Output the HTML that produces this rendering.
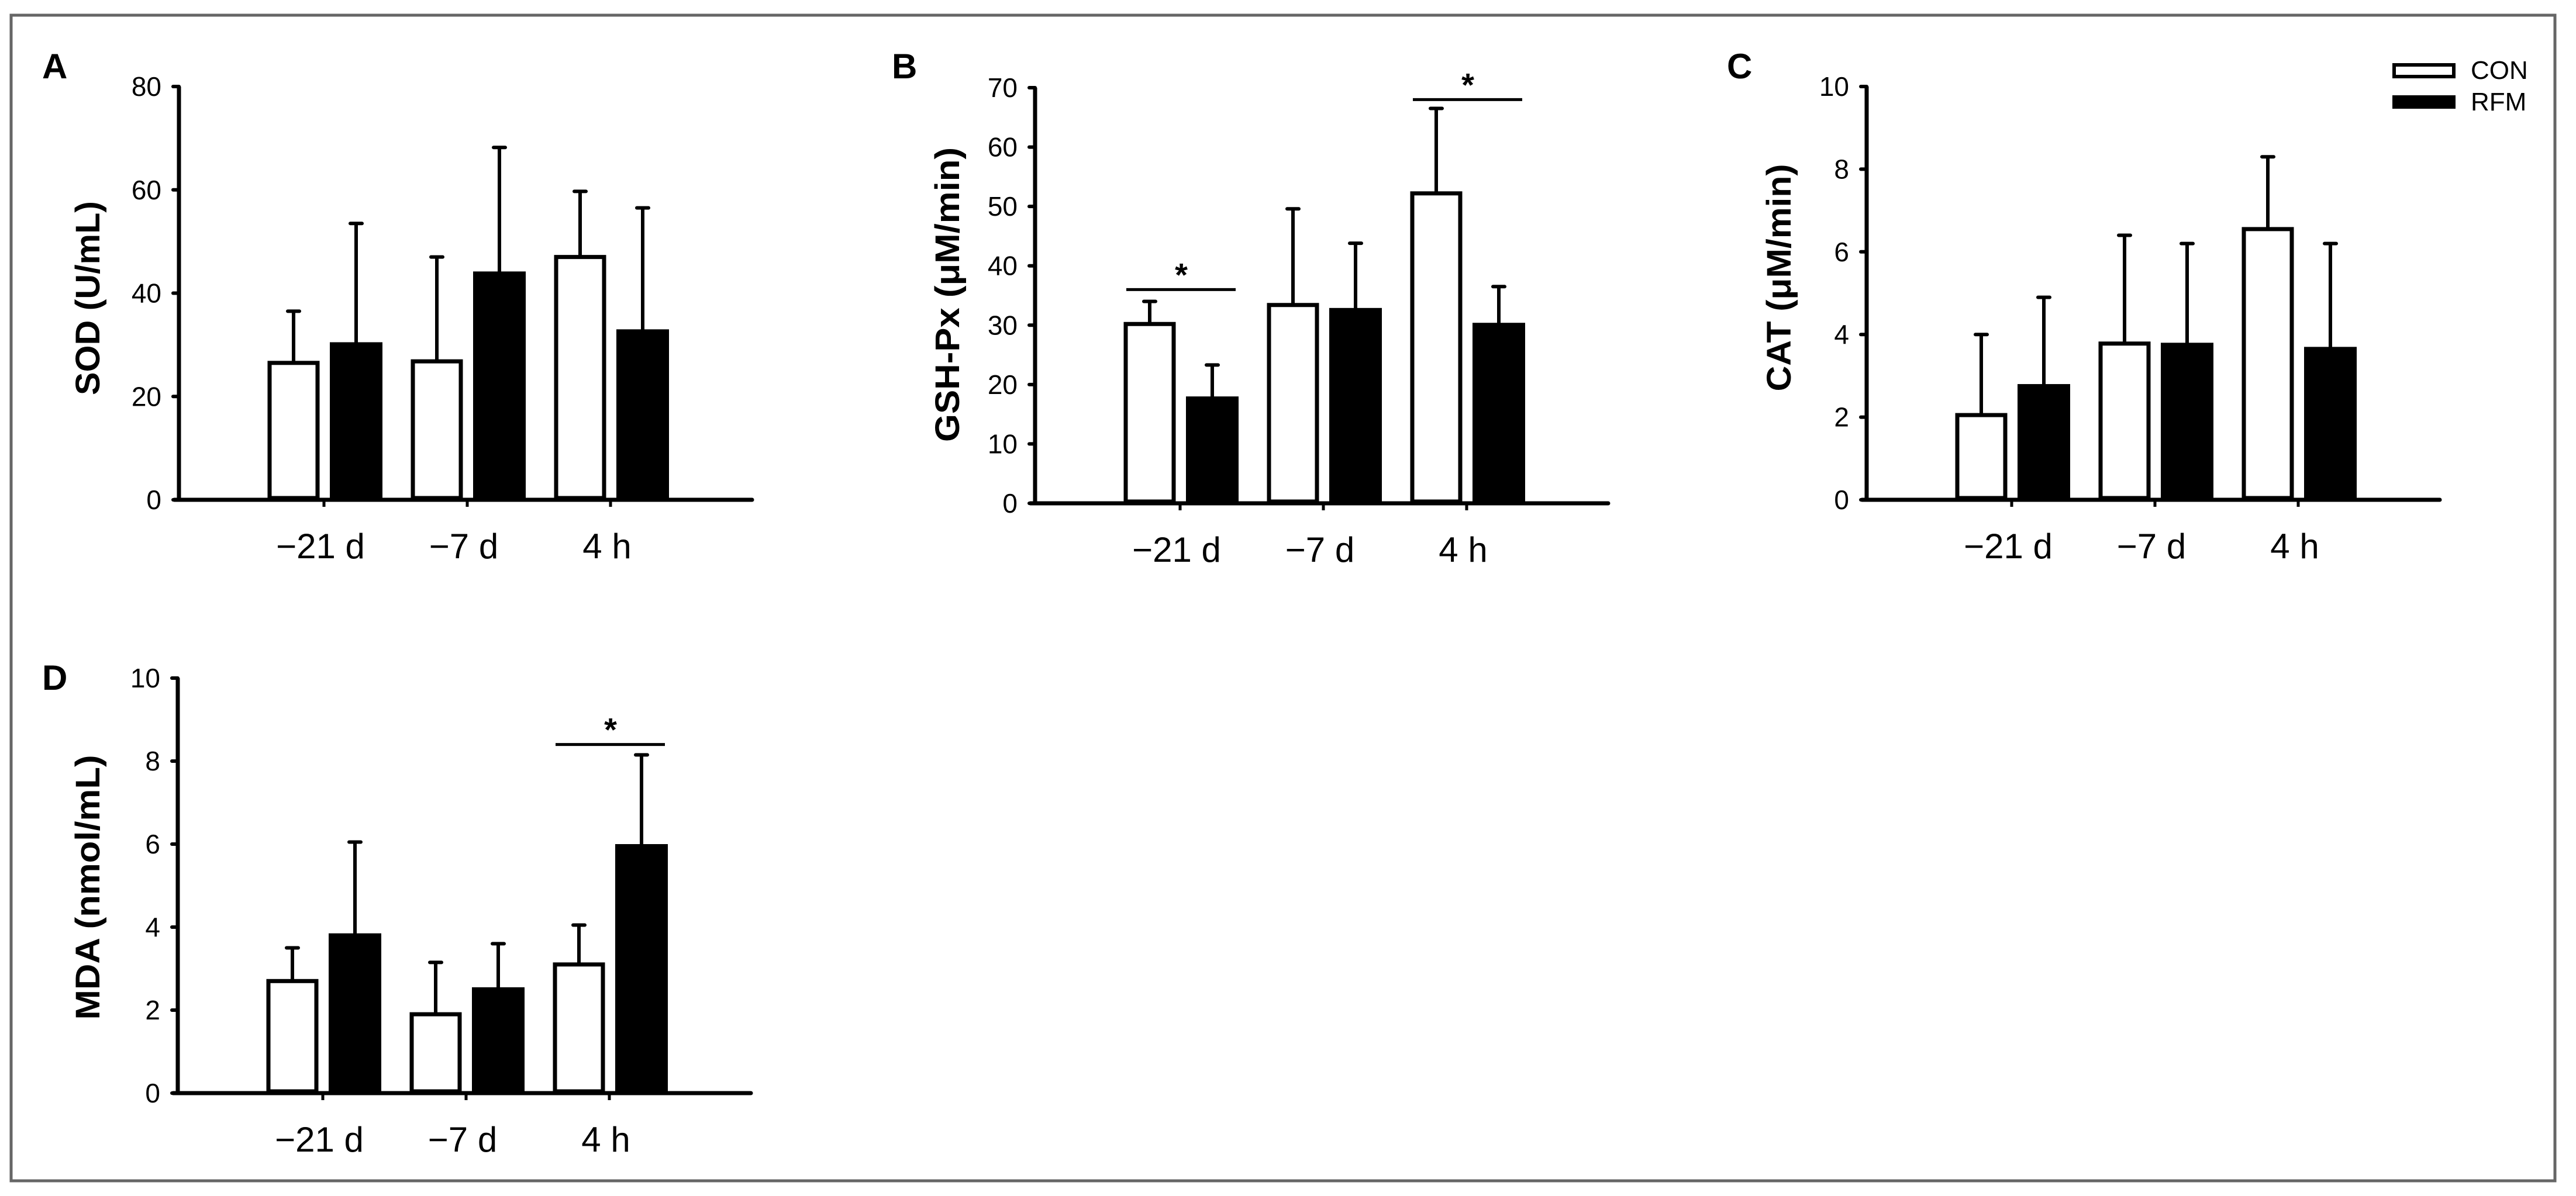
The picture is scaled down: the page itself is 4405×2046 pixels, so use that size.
<!DOCTYPE html>
<html><head><meta charset="utf-8">
<style>
html,body{margin:0;padding:0;background:#fff;}
svg{display:block;font-family:"Liberation Sans",Arial,sans-serif;}
</style></head>
<body>
<svg id="fig" width="4405" height="2046" viewBox="0 0 4405 2046" xmlns="http://www.w3.org/2000/svg">
<rect x="19" y="26" width="4350" height="1994" fill="#fff" stroke="#666" stroke-width="5"/>
<g>
<rect x="4094" y="111" width="102" height="20" fill="#fff" stroke="#000" stroke-width="6"/>
<text x="4225" y="135" font-size="44">CON</text>
<rect x="4091" y="163" width="108" height="23" fill="#000"/>
<text x="4225" y="189" font-size="44">RFM</text>
</g>
</svg>
<script>
const categories = ["\u221221 d", "\u22127 d", "4 h"];
const sodCon = [26.5, 26.8, 47.0];
const sodRfm = [30.5, 44.2, 33.0];
const sodConErr = [36.5, 47.0, 59.7];
const sodRfmErr = [53.5, 68.2, 56.5];
const sodTicks = [0, 20, 40, 60, 80];
const gshCon = [30.2, 33.4, 52.2];
const gshRfm = [18.0, 32.9, 30.4];
const gshConErr = [34.0, 49.6, 66.5];
const gshRfmErr = [23.3, 43.8, 36.5];
const gshTicks = [0, 10, 20, 30, 40, 50, 60, 70];
const gshSig = [36, null, 68];
const catCon = [2.05, 3.78, 6.55];
const catRfm = [2.8, 3.8, 3.7];
const catConErr = [4.0, 6.4, 8.3];
const catRfmErr = [4.9, 6.2, 6.2];
const catTicks = [0, 2, 4, 6, 8, 10];
const mdaCon = [2.7, 1.9, 3.1];
const mdaRfm = [3.85, 2.55, 6.0];
const mdaConErr = [3.5, 3.15, 4.05];
const mdaRfmErr = [6.05, 3.6, 8.15];
const mdaTicks = [0, 2, 4, 6, 8, 10];
const mdaSig = [null, null, 8.4];

const NS = "http://www.w3.org/2000/svg";
const svg = document.getElementById("fig");
function mk(tag, attrs, parent, txt){
  const e = document.createElementNS(NS, tag);
  for (const k in attrs) e.setAttribute(k, attrs[k]);
  if (txt !== undefined) e.textContent = txt;
  parent.appendChild(e);
  return e;
}
function panel(p){
  const g = mk("g", {}, svg);
  
  
  const yMax = p.ticks[p.ticks.length-1];
  const y = v => p.y0 - (v / yMax) * (p.y0 - p.yTop);
  const cx = i => p.x0 + 248 + i * 245;
  const lbl = mk("text", {x:p.lx, y:p.ly, "font-size":60, "font-weight":"bold"}, g, p.label);
  
  
  const t = mk("text", {transform:`translate(${p.tx},${p.ty}) rotate(-90)`, "text-anchor":"middle", "font-size":58, "font-weight":"bold", textLength:p.tl, lengthAdjust:"spacingAndGlyphs", dy:"20"}, g, p.title);
  
  
  for (let i = 0; i < categories.length; i++){
    const c = cx(i);
    const vb = y(p.con[i]);
    const b1 = mk("rect", {x:c-93, y:vb, width:82, height:p.y0-vb-3, fill:"#fff", stroke:"#000", "stroke-width":7}, g);
    
    
    const eb1 = mk("path", {d:`M${c-52},${vb} V${y(p.conErr[i])} M${c-62},${y(p.conErr[i])} H${c-42}`, stroke:"#000", "stroke-width":6, fill:"none", "stroke-linecap":"round"}, g);
    
    
    const vr = y(p.rfm[i]);
    const eb2 = mk("path", {d:`M${c+55},${vr} V${y(p.rfmErr[i])} M${c+45},${y(p.rfmErr[i])} H${c+65}`, stroke:"#000", "stroke-width":6, fill:"none", "stroke-linecap":"round"}, g);
    
    
    const b2 = mk("rect", {x:c+10, y:vr, width:90, height:p.y0-vr, fill:"#000"}, g);
    
    
    const ct = mk("text", {x:c-6, y:p.y0+100, "font-size":60, "text-anchor":"middle"}, g, categories[i]);
    
    
    mk("line", {x1:c, x2:c, y1:p.y0, y2:p.y0+12, stroke:"#000", "stroke-width":5}, g);
    if (p.sig && p.sig[i] !== null){
      const sy = y(p.sig[i]);
      const sl = mk("line", {x1:c-92, x2:c+95, y1:sy, y2:sy, stroke:"#000", "stroke-width":5}, g);
      
      
      const st = mk("text", {x:c+2, y:sy-6, "font-size":56, "font-weight":"bold", "text-anchor":"middle"}, g, "*");
      
      
    }
  }
  const ya = mk("line", {x1:p.x0, x2:p.x0, y1:p.yTop, y2:p.y0, stroke:"#000", "stroke-width":7}, g);
  
  
  const xa = mk("line", {x1:p.x0-8, x2:p.x0+980, y1:p.y0, y2:p.y0, stroke:"#000", "stroke-width":7, "stroke-linecap":"round"}, g);
  
  
  p.ticks.forEach((v, k) => {
    mk("line", {x1:p.x0-10, x2:p.x0, y1:y(v), y2:y(v), stroke:"#000", "stroke-width":6, "stroke-linecap":"round"}, g);
    const tl = mk("text", {x:p.x0-30, y:y(v)+16, "font-size":46, "text-anchor":"end"}, g, String(v));
    
    
  });
}
panel({id:"a", label:"A", lx:72, ly:134, x0:306, y0:855, yTop:148, ticks:sodTicks, con:sodCon, rfm:sodRfm, conErr:sodConErr, rfmErr:sodRfmErr, title:"SOD (U/mL)", tx:150, ty:510, tl:332});
panel({id:"b", label:"B", lx:1525, ly:134, x0:1770, y0:861, yTop:150, ticks:gshTicks, con:gshCon, rfm:gshRfm, conErr:gshConErr, rfmErr:gshRfmErr, sig:gshSig, title:"GSH-Px (\u03BCM/min)", tx:1620, ty:504, tl:504});
panel({id:"c", label:"C", lx:2953, ly:134, x0:3192, y0:855, yTop:148, ticks:catTicks, con:catCon, rfm:catRfm, conErr:catConErr, rfmErr:catRfmErr, title:"CAT (\u03BCM/min)", tx:3042, ty:475, tl:389});
panel({id:"d", label:"D", lx:72, ly:1180, x0:304, y0:1870, yTop:1160, ticks:mdaTicks, con:mdaCon, rfm:mdaRfm, conErr:mdaConErr, rfmErr:mdaRfmErr, sig:mdaSig, title:"MDA (nmol/mL)", tx:150, ty:1518, tl:453});
</script>
</body></html>
